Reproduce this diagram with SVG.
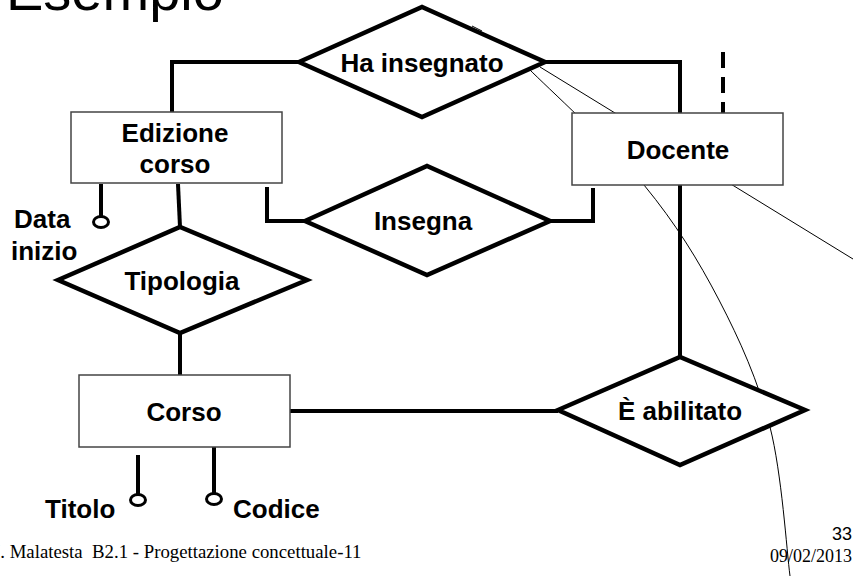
<svg xmlns="http://www.w3.org/2000/svg" width="853" height="576" viewBox="0 0 853 576">
<style>
.thin{fill:none;stroke:#000;stroke-width:1}
.conn{fill:none;stroke:#000;stroke-width:4}
.ent{fill:#fff;stroke:#444;stroke-width:1.5}
.rel{fill:#fff;stroke:#000;stroke-width:4.5;stroke-linejoin:miter}
.lbl{font-family:"Liberation Sans",Arial,sans-serif;font-weight:bold;font-size:26px;fill:#000;text-anchor:middle}
.attr{font-family:"Liberation Sans",Arial,sans-serif;font-weight:bold;font-size:26px;fill:#000}
.att{fill:#fff;stroke:#000;stroke-width:3}
.foot{font-family:"Liberation Serif","Times New Roman",serif;font-size:18px;fill:#000}
</style>
<rect width="853" height="576" fill="#fff"/>
<text x="6" y="10" font-family="Liberation Sans,Arial,sans-serif" font-size="56" fill="#000">Esempio</text>
<g id="overlay">
<path class="thin" d="M528,68 C547.3,87.5 612.2,146.3 644,185 C675.8,223.7 698,259.7 719,300 C740,340.3 758.2,381 770,427 C781.8,473 786.7,551.2 790,576"/>
<line class="thin" x1="540" y1="67" x2="853" y2="259"/>
<line class="thin" x1="472" y1="26" x2="482" y2="31"/>
</g>
<g id="connectors">
<polyline class="conn" points="299,62 172,62 172,112"/>
<polyline class="conn" points="545,62 680,62 680,113"/>
<line class="conn" x1="723" y1="52" x2="723" y2="113" stroke-dasharray="16,9"/>
<polyline class="conn" points="305,221 267,221 267,187"/>
<polyline class="conn" points="550,221 593,221 593,188"/>
<line class="conn" x1="178" y1="184" x2="180" y2="227"/>
<line class="conn" x1="180" y1="333" x2="180" y2="375"/>
<line class="conn" x1="290" y1="411" x2="558" y2="411"/>
<line class="conn" x1="680" y1="185" x2="680" y2="357"/>
<line class="conn" x1="101" y1="184" x2="101" y2="216"/>
<line class="conn" x1="138" y1="455" x2="138" y2="494"/>
<line class="conn" x1="214" y1="447" x2="214" y2="493"/>
</g>
<g id="ha-insegnato">
<polygon class="rel" points="299,62 422,7 545,62 422,117"/>
<text class="lbl" x="422" y="72">Ha insegnato</text>
</g>
<g id="edizione-corso">
<rect class="ent" x="71" y="112" width="211" height="71"/>
<text class="lbl" x="175" y="142">Edizione</text>
<text class="lbl" x="175" y="173">corso</text>
</g>
<g id="docente">
<rect class="ent" x="572" y="113" width="211" height="72"/>
<text class="lbl" x="678" y="159">Docente</text>
</g>
<g id="insegna">
<polygon class="rel" points="305,221 427,166 550,221 427,275"/>
<text class="lbl" x="423" y="230">Insegna</text>
</g>
<g id="tipologia">
<polygon class="rel" points="58,280 180,227 307,280 180,333"/>
<text class="lbl" x="182" y="290">Tipologia</text>
</g>
<g id="corso">
<rect class="ent" x="79" y="375" width="211" height="72"/>
<text class="lbl" x="184" y="421">Corso</text>
</g>
<g id="e-abilitato">
<polygon class="rel" points="558,410 680,357 805,410 680,465"/>
<text class="lbl" x="680" y="420">È abilitato</text>
</g>
<g id="data-inizio">
<ellipse class="att" cx="101" cy="222" rx="7.5" ry="5.5"/>
<text class="attr" x="14" y="228">Data</text>
<text class="attr" x="11" y="260">inizio</text>
</g>
<g id="titolo">
<ellipse class="att" cx="138" cy="500" rx="7.5" ry="5.5"/>
<text class="attr" x="45" y="518">Titolo</text>
</g>
<g id="codice">
<ellipse class="att" cx="214" cy="499" rx="7.5" ry="5.5"/>
<text class="attr" x="233" y="518">Codice</text>
</g>
<g id="footer">
<text class="foot" x="-6" y="558" style="font-size:18.8px" xml:space="preserve">I. Malatesta  B2.1 - Progettazione concettuale-11</text>
<text x="852" y="540" font-family="Liberation Sans,Arial,sans-serif" font-size="18" text-anchor="end" fill="#000">33</text>
<text class="foot" x="852" y="562" text-anchor="end">09/02/2013</text>
</g>
</svg>
